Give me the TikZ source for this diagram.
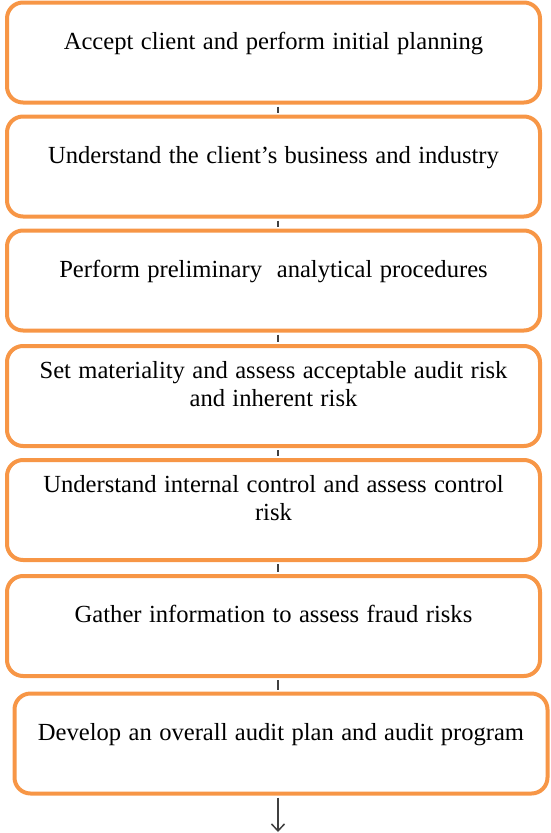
\documentclass[tikz,border=0pt]{standalone}
\usepackage{fontspec}
\setmainfont{Liberation Serif}[WordSpace=1.2]
\usetikzlibrary{arrows.meta}

\definecolor{boxorange}{HTML}{F79646}
\definecolor{wiregray}{HTML}{404040}

\begin{document}
\begin{tikzpicture}[x=1pt, y=-1pt,
    stepbox/.style={draw=boxorange, line width=4pt, rounded corners=16pt, fill=white,
      minimum width=533pt, minimum height=100pt, align=center, text depth=24pt,
      font=\fontsize{24.6}{28}\selectfont},
    wire/.style={draw=wiregray, line width=1.5pt, shorten <=2pt, shorten >=2pt}]
  \useasboundingbox (0,0) rectangle (551,833);
  % Steps of the plan:
  \node[stepbox] (accept)      at (273.5, 52.5) {Accept client and perform initial planning};
  \node[stepbox] (business)    at (273.5, 166.5) {Understand the client’s business and industry};
  \node[stepbox] (analytics)   at (273.5, 280.5) {Perform preliminary~ analytical procedures};
  \node[stepbox] (materiality) at (273.5, 396) {Set materiality and assess acceptable audit risk\\ and inherent risk};
  \node[stepbox] (control)     at (273.5, 510) {Understand internal control and assess control\\ risk};
  \node[stepbox] (fraud)       at (273.5, 626) {Gather information to assess fraud risks};
  \node[stepbox] (program)     at (281, 743.5) {Develop an overall audit plan and audit program};
  \coordinate (finish) at (278, 832);
  % Wires:
  \draw[wire] ([xshift=4.5pt]accept.south) -- ([xshift=4.5pt]business.north);
  \draw[wire] ([xshift=4.5pt]business.south) -- ([xshift=4.5pt]analytics.north);
  \draw[wire] ([xshift=4.5pt]analytics.south) -- ([xshift=4.5pt]materiality.north);
  \draw[wire] ([xshift=4.5pt]materiality.south) -- ([xshift=4.5pt]control.north);
  \draw[wire] ([xshift=4.5pt]control.south) -- ([xshift=4.5pt]fraud.north);
  \draw[wire] ([xshift=4.5pt]fraud.south) -- ([xshift=4.5pt]fraud.south |- program.north);
  \draw[wire, shorten >=0pt, -{Straight Barb[length=7pt, width=13pt]}] (program.south -| finish) -- (finish);
\end{tikzpicture}
\end{document}
